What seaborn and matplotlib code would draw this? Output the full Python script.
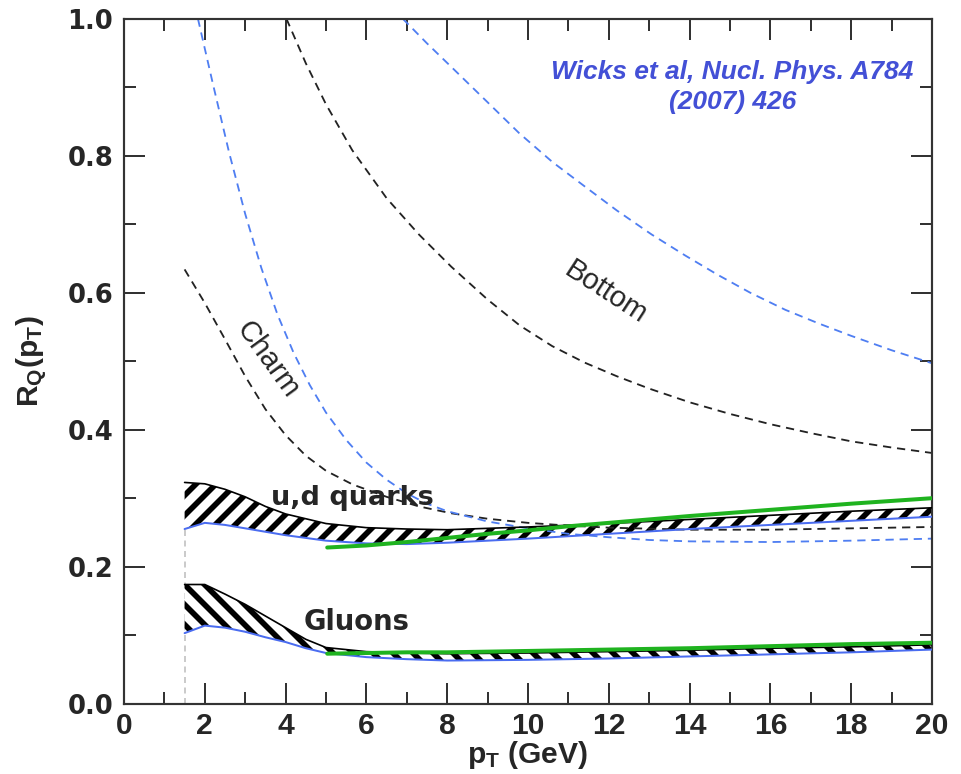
import numpy as np
import pandas as pd
import matplotlib
matplotlib.use("Agg")
import matplotlib.pyplot as plt
import seaborn as sns

# ---------------- data ----------------
charm_black_x = [1.5, 2.0, 2.5, 3.0, 3.5, 4.0, 4.5, 5.0, 5.66, 6.5, 7.3, 8.1, 9.0, 10.0, 11.0, 12.0, 14.0, 16.0, 18.0, 20.0]
charm_black_y = [0.634, 0.585, 0.532, 0.478, 0.430, 0.392, 0.362, 0.340, 0.320, 0.302, 0.288, 0.278, 0.270, 0.264, 0.260, 0.257, 0.254, 0.254, 0.256, 0.258]

charm_blue_x = [1.83, 2.2, 2.6, 3.0, 3.4, 3.8, 4.2, 4.6, 5.0, 5.5, 6.0, 6.5, 7.0, 7.5, 8.0, 9.0, 10.0, 11.0, 12.0, 13.0, 14.0, 16.0, 18.0, 20.0]
charm_blue_y = [1.0, 0.905, 0.805, 0.715, 0.636, 0.568, 0.512, 0.465, 0.425, 0.385, 0.352, 0.327, 0.307, 0.292, 0.281, 0.266, 0.256, 0.248, 0.243, 0.239, 0.237, 0.236, 0.238, 0.241]

bottom_black_x = [4.02, 4.5, 5.0, 5.65, 6.5, 7.3, 8.1, 9.0, 9.8, 10.6, 11.4, 12.2, 13.0, 14.0, 15.0, 16.0, 17.0, 18.0, 19.0, 20.0]
bottom_black_y = [1.0, 0.935, 0.875, 0.808, 0.738, 0.685, 0.638, 0.590, 0.552, 0.522, 0.498, 0.478, 0.460, 0.440, 0.423, 0.408, 0.395, 0.383, 0.374, 0.366]

bottom_blue_x = [6.9, 7.5, 8.13, 9.0, 9.78, 10.6, 11.43, 12.2, 13.06, 13.9, 14.7, 15.5, 16.37, 17.2, 18.0, 19.0, 20.0]
bottom_blue_y = [1.0, 0.964, 0.928, 0.878, 0.833, 0.791, 0.754, 0.720, 0.685, 0.654, 0.626, 0.600, 0.575, 0.555, 0.537, 0.516, 0.497]

ud_x = [1.5, 2.0, 2.5, 3.0, 3.5, 4.0, 5.0, 6.0, 7.0, 8.0, 10.0, 12.0, 14.0, 16.0, 18.0, 20.0]
ud_upper = [0.323, 0.321, 0.313, 0.302, 0.288, 0.277, 0.263, 0.257, 0.255, 0.254, 0.258, 0.263, 0.269, 0.275, 0.281, 0.286]
ud_lower = [0.255, 0.264, 0.261, 0.256, 0.251, 0.246, 0.238, 0.234, 0.233, 0.235, 0.241, 0.248, 0.255, 0.261, 0.267, 0.273]

ud_green_x = [5.03, 6.0, 7.0, 8.0, 9.0, 10.0, 11.0, 12.0, 14.0, 16.0, 18.0, 20.0]
ud_green_y = [0.228, 0.231, 0.236, 0.242, 0.248, 0.253, 0.259, 0.264, 0.274, 0.283, 0.292, 0.300]

gl_x = [1.5, 2.0, 2.5, 3.0, 3.5, 4.0, 4.5, 5.0, 6.0, 7.0, 8.0, 10.0, 12.0, 14.0, 16.0, 18.0, 20.0]
gl_upper = [0.174, 0.174, 0.160, 0.145, 0.128, 0.111, 0.094, 0.082, 0.076, 0.074, 0.073, 0.074, 0.076, 0.078, 0.081, 0.083, 0.086]
gl_lower = [0.103, 0.114, 0.111, 0.105, 0.097, 0.090, 0.081, 0.074, 0.068, 0.065, 0.063, 0.064, 0.066, 0.069, 0.072, 0.075, 0.079]

gl_green_x = [5.03, 6.0, 7.0, 8.0, 10.0, 12.0, 14.0, 16.0, 18.0, 20.0]
gl_green_y = [0.073, 0.074, 0.075, 0.075, 0.077, 0.079, 0.081, 0.084, 0.087, 0.089]

cut_x = [1.5, 1.5]
cut_y = [0.0, 0.255]

x_ticks = [0, 2, 4, 6, 8, 10, 12, 14, 16, 18, 20]
y_ticks = [0.0, 0.2, 0.4, 0.6, 0.8, 1.0]

# ---------------- style ----------------
sns.set_style("ticks")
plt.rcParams["font.family"] = ["DejaVu Sans"]
plt.rcParams["hatch.linewidth"] = 3.4
plt.rcParams["mathtext.fontset"] = "custom"
plt.rcParams["mathtext.bf"] = "Liberation Sans:bold"
plt.rcParams["mathtext.rm"] = "Liberation Sans"
plt.rcParams["mathtext.it"] = "Liberation Sans:italic"

DPI = 120
fig = plt.figure(figsize=(961 / DPI, 774 / DPI), dpi=DPI)
ax = fig.add_axes([124 / 961, 1 - 703.7 / 774, (932 - 124) / 961, (703.7 - 18.7) / 774])

BLUE_D = "#4f7ef2"
BLUE_E = "#4a6cf0"
GREEN = "#1fb31f"

# bands
ax.fill_between(ud_x, ud_lower, ud_upper, facecolor="white", edgecolor="black",
                hatch="//", linewidth=0, zorder=2)
ax.fill_between(gl_x, gl_lower, gl_upper, facecolor="white", edgecolor="black",
                hatch="\\\\", linewidth=0, zorder=2)

def line(x, y, **kw):
    sns.lineplot(x=x, y=y, ax=ax, sort=False, estimator=None, legend=False, **kw)

line(ud_x, ud_upper, color="black", linewidth=1.0, zorder=3)
line(ud_x, ud_lower, color=BLUE_E, linewidth=1.2, zorder=3)
line(gl_x, gl_upper, color="black", linewidth=1.0, zorder=3)
line(gl_x, gl_lower, color=BLUE_E, linewidth=1.2, zorder=3)

line(cut_x, cut_y, color="#bbbbbb", linewidth=0.9, linestyle=(0, (4, 3)), zorder=1)

for xs, ys, c in [(charm_black_x, charm_black_y, "#222222"),
                  (bottom_black_x, bottom_black_y, "#222222"),
                  (charm_blue_x, charm_blue_y, BLUE_D),
                  (bottom_blue_x, bottom_blue_y, BLUE_D)]:
    line(xs, ys, color=c, linewidth=1.1, linestyle=(0, (4.5, 3.2)), zorder=2)

line(ud_green_x, ud_green_y, color=GREEN, linewidth=2.4, zorder=4)
line(gl_green_x, gl_green_y, color=GREEN, linewidth=2.4, zorder=4)

# axes
ax.set_xlim(0, 20)
ax.set_ylim(0, 1.0)
ax.set_xticks(x_ticks)
ax.set_yticks(y_ticks)
ax.set_xticks(np.arange(1, 20, 2), minor=True)
ax.set_yticks(np.arange(0.1, 1.0, 0.2), minor=True)
ax.set_xticklabels([str(v) for v in x_ticks], fontfamily="Liberation Sans",
                   fontweight="bold", fontsize=18)
ax.set_yticklabels([f"{v:.1f}" for v in y_ticks], fontfamily="DejaVu Sans",
                   fontweight="bold", fontsize=15.5)
ax.tick_params(which="both", direction="in", top=True, right=True,
               color="#333333", width=1.2)
ax.tick_params(which="major", length=12.5)
ax.tick_params(which="minor", length=7)
ax.tick_params(axis="y", pad=6.5)
ax.tick_params(axis="x", pad=5)
for s in ax.spines.values():
    s.set_linewidth(1.3)
    s.set_color("#333333")

ax.set_xlabel(r"$\mathbf{p_T}$ (GeV)", fontfamily="Liberation Sans",
              fontweight="bold", fontsize=18)
ax.set_ylabel(r"$\mathbf{R_Q(p_T)}$", fontsize=18)
ax.xaxis.set_label_coords(0.5, -0.052)
ax.yaxis.set_label_coords(-0.093, 0.5)

# annotations
ax.text(3.65, 0.30, "u,d quarks", fontsize=16.3, fontweight="bold",
        ha="left", va="center", zorder=5)
ax.text(4.45, 0.119, "Gluons", fontsize=16.5, fontweight="bold",
        ha="left", va="center", zorder=5)
ax.text(3.56, 0.502, "Charm", fontsize=17.5, fontfamily="Liberation Sans",
        rotation=-54, ha="center", va="center", rotation_mode="anchor")
ax.text(11.93, 0.60, "Bottom", fontsize=17.5, fontfamily="Liberation Sans",
        rotation=-33, ha="center", va="center", rotation_mode="anchor")
ax.text(15.06, 0.90, "Wicks et al, Nucl. Phys. A784\n(2007) 426",
        fontsize=15.8, fontfamily="Liberation Sans", fontweight="bold",
        fontstyle="italic", color="#4350d6", ha="center", va="center",
        linespacing=1.3)

fig.savefig("out.png", dpi=DPI, facecolor="white")
